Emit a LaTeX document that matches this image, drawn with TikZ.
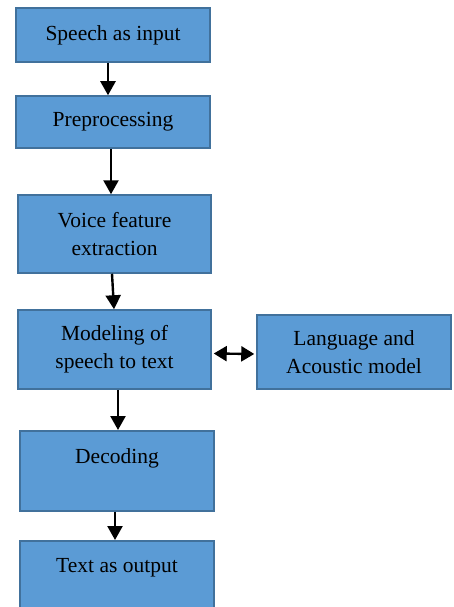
\documentclass[tikz,border=0pt]{standalone}
\usepackage{fontspec}
\setmainfont{Liberation Serif}
\usetikzlibrary{arrows.meta, positioning}
\definecolor{boxfill}{HTML}{5B9BD5}
\definecolor{boxline}{HTML}{41719C}

\begin{document}
\begin{tikzpicture}[
    x=1pt, y=-1pt,
    stage/.style={draw=boxline, line width=1.5pt, fill=boxfill, minimum width=194pt, align=center, inner sep=0pt, font=\fontsize{21.5}{28}\selectfont},
    flow/.style={-{Triangle[length=14pt, width=15pt]}, line width=2.4pt},
    both/.style={{Triangle[length=13pt, width=15pt]}-{Triangle[length=13pt, width=15pt]}, line width=2.4pt}
]
    \useasboundingbox (0,0) rectangle (454,607);

    \node[stage, minimum height=54pt] (input) at (113,35) {Speech as input};
    \node[stage, minimum height=52pt] (prep) at (113,122) {Preprocessing};
    \node[stage, minimum height=78pt, minimum width=193pt] (voice) at (114.5,234) {Voice feature\\extraction};
    \node[stage, minimum height=79pt, minimum width=193pt] (model) at (114.5,349.5) {Modeling of\\speech to text};
    \node[stage, minimum height=74pt] (lang) at (354,352) {Language and\\Acoustic model};
    \node[stage, anchor=north, text height=33pt, text depth=47pt] (decode) at (117,430) {Decoding};
    \node[stage, anchor=north, text height=32pt, text depth=48pt] (output) at (117,540) {Text as output};

    \draw[flow] ([xshift=-5pt]input.south) -- ([xshift=-5pt]prep.north);
    \draw[flow] ([xshift=-2pt]prep.south) -- ([xshift=-3.5pt]voice.north);
    \draw[flow] ([xshift=-2.5pt]voice.south) -- ([xshift=-0.5pt]model.north);
    \draw[flow] ([xshift=3.5pt]model.south) -- ([xshift=1pt]decode.north);
    \draw[flow] ([xshift=-2pt]decode.south) -- ([xshift=-2pt]output.north);
    \draw[both] ([xshift=2pt, yshift=-4pt]model.east) -- ([xshift=-2pt, yshift=-2pt]lang.west);
\end{tikzpicture}
\end{document}
